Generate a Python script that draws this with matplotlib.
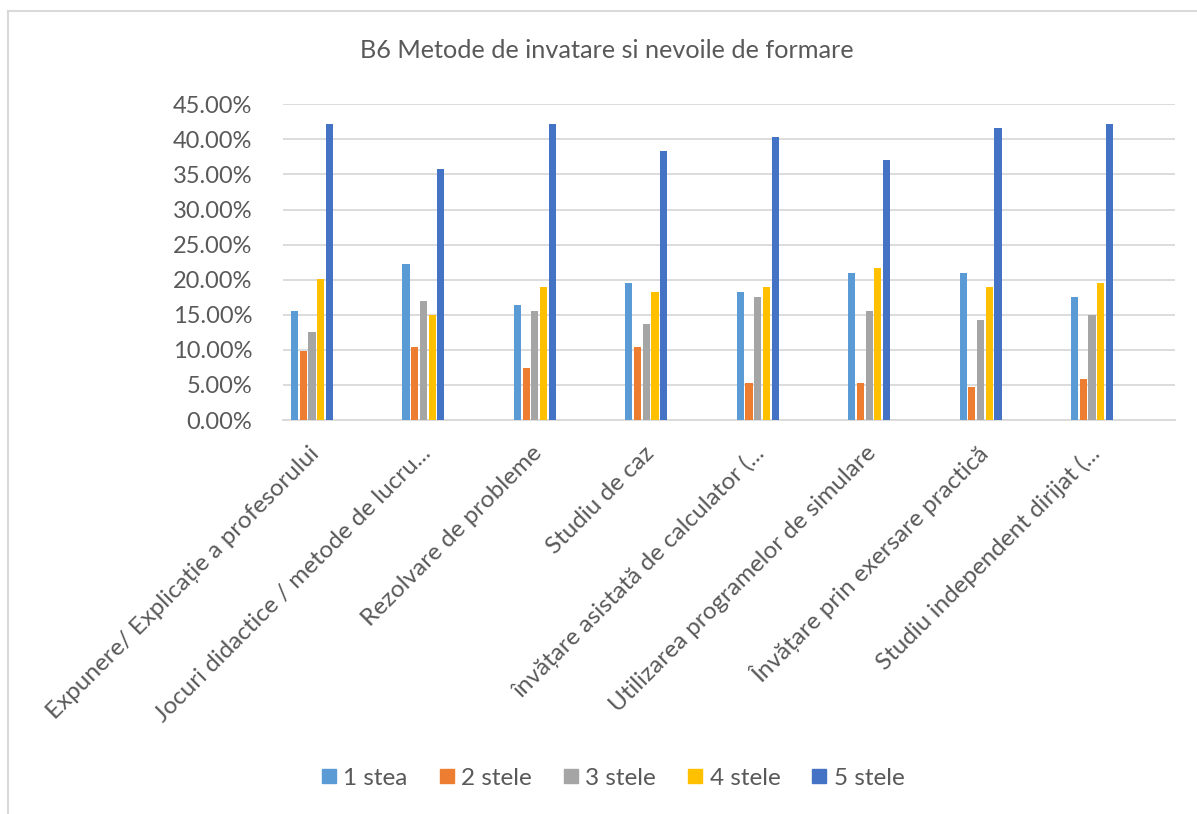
import matplotlib.pyplot as plt
import matplotlib.transforms as mtransforms
from matplotlib.lines import Line2D
import numpy as np

plt.rcParams['font.family'] = ['Lato', 'DejaVu Sans']

categories = [
    'Expunere/ Explicație a profesorului',
    'Jocuri didactice / metode de lucru...',
    'Rezolvare de probleme',
    'Studiu de caz',
    'învățare asistată de calculator (...',
    'Utilizarea programelor de simulare',
    'Învățare prin exersare practică',
    'Studiu independent dirijat (...',
]
series_names = ['1 stea', '2 stele', '3 stele', '4 stele', '5 stele']
stea1 = [15.6, 22.2, 16.4, 19.5, 18.3, 20.9, 20.9, 17.6]
stele2 = [9.8, 10.4, 7.4, 10.4, 5.3, 5.3, 4.7, 5.9]
stele3 = [12.5, 17.0, 15.6, 13.7, 17.6, 15.6, 14.3, 14.9]
stele4 = [20.1, 14.9, 18.9, 18.3, 18.9, 21.6, 18.9, 19.5]
stele5 = [42.2, 35.8, 42.2, 38.3, 40.3, 37.0, 41.6, 42.2]
colors = ['#5B9BD5', '#ED7D31', '#A5A5A5', '#FFC000', '#4472C4']

fig = plt.figure(figsize=(11.97, 8.14), dpi=100)
ax = fig.add_axes([283 / 1197, 1 - 420 / 814, (1175 - 283) / 1197, (420 - 104.3) / 814])

x = np.arange(len(categories))
pitch = 0.078
width = 0.064
for k, (vals, c) in enumerate(zip([stea1, stele2, stele3, stele4, stele5], colors)):
    ax.bar(x + (k - 2) * pitch, np.array(vals) / 100, width=width, color=c,
           label=series_names[k], zorder=3)

ax.set_xlim(-0.26, len(categories) - 0.255)
ax.set_ylim(0, 0.45)
ax.set_yticks(np.arange(0, 0.451, 0.05))
ax.set_yticklabels([f'{v * 100:.2f}%' for v in np.arange(0, 0.451, 0.05)],
                   fontsize=17, color='#595959')
ax.yaxis.grid(True, color='#D9D9D9', linewidth=1.3, zorder=0)
ax.tick_params(axis='y', length=0, pad=22)
ax.tick_params(axis='x', length=0)
for s in ['left', 'right', 'top']:
    ax.spines[s].set_visible(False)
ax.spines['bottom'].set_color('#D9D9D9')
ax.spines['bottom'].set_linewidth(1.3)

ax.set_xticks(x)
ax.set_xticklabels(categories, rotation=45, ha='right', va='center',
                   rotation_mode='anchor', fontsize=17.5, color='#595959')
offset = mtransforms.ScaledTranslation(4 / 100, -25 / 100, fig.dpi_scale_trans)
for lbl in ax.get_xticklabels():
    lbl.set_transform(lbl.get_transform() + offset)

fig.text(607 / 1197, 1 - 50 / 814, 'B6 Metode de invatare si nevoile de formare',
         ha='center', va='center', fontsize=18.2, color='#595959')

handles = [Line2D([], [], marker='s', linestyle='none', markersize=10,
                  markerfacecolor=c, markeredgecolor=c) for c in colors]
fig.legend(handles, series_names, loc='center', bbox_to_anchor=(613 / 1197, 1 - 778 / 814),
           ncol=5, frameon=False, fontsize=17.5, handlelength=0.6, handletextpad=0.3,
           columnspacing=1.3, labelcolor='#595959')

# chart border (left and top edges visible)
fig.add_artist(Line2D([8 / 1197, 8 / 1197], [0, 1 - 11 / 814], color='#D9D9D9',
                      linewidth=1.5, transform=fig.transFigure))
fig.add_artist(Line2D([8 / 1197, 1], [1 - 11 / 814, 1 - 11 / 814], color='#D9D9D9',
                      linewidth=1.5, transform=fig.transFigure))

fig.savefig('out.png', dpi=100, facecolor='white')
